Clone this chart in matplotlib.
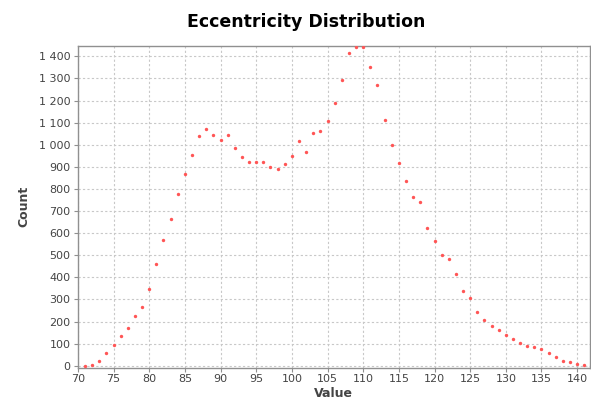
import matplotlib
matplotlib.use("Agg")
import matplotlib.pyplot as plt
from matplotlib.ticker import FuncFormatter, MultipleLocator

values = list(range(71, 142))
counts = [0, 5, 21, 56, 92, 134, 171, 225, 264, 347,
          462, 567, 664, 777, 867, 953, 1038, 1072, 1045, 1021,
          1042, 984, 944, 920, 922, 923, 899, 889, 913, 949,
          1018, 968, 1052, 1061, 1106, 1190, 1293, 1414, 1441, 1441,
          1353, 1272, 1113, 999, 919, 834, 762, 741, 623, 566,
          502, 481, 415, 337, 305, 242, 205, 181, 162, 140,
          121, 104, 89, 83, 76, 57, 38, 21, 15, 9,
          5]
title = "Eccentricity Distribution"
xlabel = "Value"
ylabel = "Count"

W, H = 591, 407
fig = plt.figure(figsize=(W / 100, H / 100), dpi=100)
fig.patch.set_facecolor("white")
ax = fig.add_axes([77.5 / W, 1 - 367.5 / H, (590 - 77.5) / W, (367.5 - 45.7) / H])
ax.set_facecolor("white")

ax.scatter(values, counts, s=6, marker="o", color="#ff5555", linewidths=0, zorder=3)

ax.set_xlim(69.95, 141.8)
ax.set_ylim(-8, 1448)
ax.xaxis.set_major_locator(MultipleLocator(5))
ax.yaxis.set_major_locator(MultipleLocator(100))
ax.yaxis.set_major_formatter(FuncFormatter(lambda v, p: f"{v:,.0f}".replace(",", " ")))

ax.grid(True, color="#c8c8c8", linestyle=(0, (2, 2)), linewidth=0.8)
ax.set_axisbelow(True)
for s in ax.spines.values():
    s.set_color("#909090")
    s.set_linewidth(1.0)
ax.tick_params(axis="both", colors="#909090", labelcolor="#444444", labelsize=8,
               length=3, width=0.8, direction="out", pad=2)

ax.set_xlabel(xlabel, fontsize=9, fontweight="bold", color="#444444", labelpad=2)
ax.set_ylabel(ylabel, fontsize=9, fontweight="bold", color="#444444", labelpad=6)

fig.text(306 / W, 1 - 22 / H, title, ha="center", va="center",
         fontsize=12.5, fontweight="bold", color="black")

fig.savefig("out.png", dpi=100)
